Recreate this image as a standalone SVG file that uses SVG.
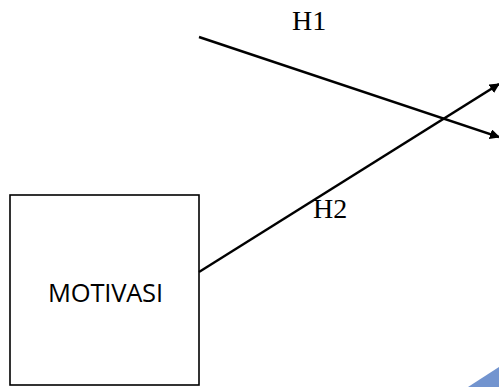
<svg xmlns="http://www.w3.org/2000/svg" width="499" height="387" viewBox="0 0 499 387">
<defs>
<style>
.conn{stroke:#000;stroke-width:2.4;fill:none}
.lbl{font-family:"Liberation Serif","Times New Roman",serif;font-size:28px;fill:#000}
.box{fill:#fff;stroke:#000;stroke-width:1.6}
.ntext{font-family:"Open Sans","Liberation Sans",sans-serif;font-size:25.5px;fill:#000}
</style>
<marker id="arr" viewBox="0 0 10 10" refX="9" refY="5" markerWidth="4.2" markerHeight="4.2" orient="auto" markerUnits="strokeWidth">
<path d="M0,0 L10,5 L0,10 z" fill="#000"/>
</marker>
</defs>
<rect width="499" height="387" fill="#fff"/>
<polygon points="468,387 499,367 499,387" fill="#7294cf"/>
<g id="node-motivasi">
<rect class="box" x="10" y="195" width="189" height="190"/>
<text class="ntext" x="48" y="302" textLength="115" lengthAdjust="spacing">MOTIVASI</text>
</g>
<g id="connectors">
<line class="conn" x1="199" y1="37" x2="499" y2="137" marker-end="url(#arr)"/>
<line class="conn" x1="199" y1="272" x2="499" y2="84" marker-end="url(#arr)"/>
</g>
<g id="labels">
<text class="lbl" x="292" y="30">H1</text>
<text class="lbl" x="313" y="218">H2</text>
</g>
</svg>
